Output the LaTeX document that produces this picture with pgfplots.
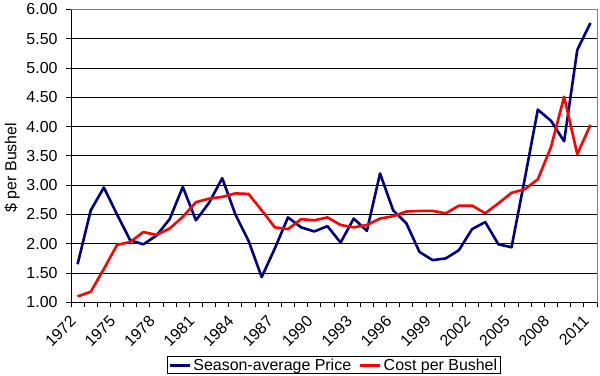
\documentclass[border=0pt]{standalone}
\usepackage{fontspec}
\setmainfont{Liberation Sans}
\usepackage{pgfplots}
\usepackage{pgfplotstable}
\pgfplotsset{compat=1.18}
\definecolor{navyline}{RGB}{0,0,128}
\definecolor{redline}{RGB}{255,0,0}

\pgfplotstableread{
year price cost
1972 1.65 1.10
1973 2.57 1.18
1974 2.96 1.57
1975 2.50 1.98
1976 2.06 2.03
1977 1.99 2.20
1978 2.14 2.15
1979 2.42 2.26
1980 2.97 2.46
1981 2.40 2.71
1982 2.70 2.77
1983 3.12 2.80
1984 2.50 2.86
1985 2.05 2.85
1986 1.43 2.57
1987 1.92 2.28
1988 2.45 2.25
1989 2.28 2.42
1990 2.21 2.40
1991 2.30 2.45
1992 2.02 2.32
1993 2.43 2.28
1994 2.22 2.32
1995 3.20 2.43
1996 2.57 2.47
1997 2.35 2.55
1998 1.86 2.56
1999 1.72 2.56
2000 1.75 2.52
2001 1.89 2.65
2002 2.25 2.65
2003 2.37 2.52
2004 1.99 2.69
2005 1.94 2.87
2006 3.10 2.93
2007 4.29 3.10
2008 4.10 3.65
2009 3.75 4.51
2010 5.31 3.53
2011 5.77 4.03
}\datatable

\begin{document}
\begin{tikzpicture}
\begin{axis}[
  at={(71bp,73.7bp)}, anchor=south west,
  scale only axis, width=526bp, height=292.8bp,
  xmin=1971.5, xmax=2011.5, ymin=1, ymax=6,
  font=\fontsize{16}{19}\selectfont,
  /pgf/number format/assume math mode=true,
  xtick={1972,1975,...,2011},
  xticklabel={\pgfmathprintnumber[fixed,1000 sep={}]{\tick}},
  major x tick style={draw=none},
  minor xtick={1971.5,1972.5,...,2011.5},
  minor x tick style={black, line width=1bp},
  minor tick length=5bp,
  xtick pos=bottom, ytick pos=left,
  tick align=outside,
  ytick={1,1.5,...,6},
  yticklabel={\pgfmathprintnumber[fixed,fixed zerofill,precision=2]{\tick}},
  major tick length=5bp,
  y tick style={black, line width=1bp},
  ymajorgrids,
  major grid style={black, line width=1bp},
  axis line style={gray, line width=1bp},
  xticklabel style={xshift=-2bp, yshift=-9bp, rotate=45, anchor=east, font=\fontsize{16}{19}\selectfont},
  yticklabel style={xshift=-5bp, font=\fontsize{16}{19}\selectfont},
  ylabel={\$ per Bushel},
  ylabel style={at={(axis description cs:-0.112,0.46)}, anchor=center, font=\fontsize{16}{19}\selectfont},
  legend style={at={(axis description cs:0.5,-0.246)}, anchor=south, draw=black, line width=1bp,
    legend columns=2, font=\fontsize{16}{19}\selectfont,
    inner xsep=1bp, inner ysep=0bp,
    /tikz/every even column/.append style={column sep=6bp}},
  legend image code/.code={\draw[#1] (0bp,0bp) -- (20bp,0bp);},
]
\addplot[navyline, line width=2.6bp, line join=round] table[x=year, y=price] {\datatable};
\addlegendentry{Season-average Price}
\addplot[redline, line width=2.6bp, line join=round] table[x=year, y=cost] {\datatable};
\addlegendentry{Cost per Bushel}
\draw[black, line width=1bp] (rel axis cs:0,1) -- (rel axis cs:0,0) -- (rel axis cs:1,0);
\end{axis}
\pgfresetboundingbox
\useasboundingbox (0,0) rectangle (600bp,376bp);
\end{tikzpicture}
\end{document}
